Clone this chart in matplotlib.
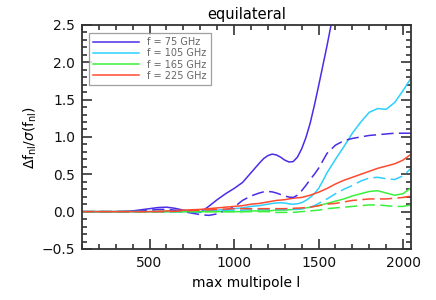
import matplotlib
matplotlib.use('Agg')
import matplotlib.pyplot as plt
from matplotlib.ticker import MultipleLocator

# max multipole values (x grid shared by every curve)
ell = [100, 200, 300, 400, 500, 550, 600, 650, 700, 750, 800, 850, 900, 950,
       1000, 1050, 1100, 1150, 1175, 1200, 1225, 1250, 1275, 1300, 1325, 1350,
       1375, 1400, 1425, 1450, 1475, 1500, 1525, 1550,
       1600, 1650, 1700, 1750, 1800, 1850, 1900, 1950, 2000, 2048]

# solid curves
f75 = [0.0, 0.0, 0.0, 0.01, 0.04, 0.055, 0.06, 0.045, 0.02, 0.0, -0.01, 0.07, 0.16, 0.24,
       0.31, 0.39, 0.52, 0.65, 0.71, 0.75, 0.77, 0.76, 0.73, 0.69, 0.665, 0.67,
       0.73, 0.84, 0.99, 1.18, 1.42, 1.68, 1.95, 2.22,
       2.8, 3.3, 3.8, 4.3, 4.8, 5.3, 5.8, 6.3, 6.8, 7.3]
f105 = [0.0, 0.0, 0.0, 0.0, 0.0, 0.0, 0.0, 0.0, 0.0, 0.0, 0.0, 0.01, 0.02, 0.03,
        0.04, 0.05, 0.07, 0.08, 0.09, 0.10, 0.11, 0.115, 0.12, 0.115, 0.105, 0.10,
        0.105, 0.12, 0.15, 0.19, 0.24, 0.31, 0.41, 0.52,
        0.70, 0.87, 1.05, 1.20, 1.33, 1.38, 1.37, 1.46, 1.62, 1.79]
f165 = [0.0, 0.0, 0.0, 0.0, 0.0, 0.0, 0.0, 0.0, 0.0, 0.0, 0.0, 0.0, 0.0, 0.0,
        0.0, 0.0, 0.01, 0.01, 0.01, 0.01, 0.015, 0.02, 0.02, 0.02, 0.025, 0.03,
        0.035, 0.04, 0.05, 0.06, 0.07, 0.08, 0.095, 0.11,
        0.14, 0.17, 0.21, 0.24, 0.27, 0.28, 0.25, 0.22, 0.24, 0.32]
f225 = [0.0, 0.0, 0.0, 0.0, 0.0, 0.005, 0.01, 0.015, 0.02, 0.025, 0.03, 0.04, 0.05, 0.06,
        0.07, 0.08, 0.10, 0.11, 0.12, 0.13, 0.14, 0.15, 0.155, 0.16, 0.17, 0.18,
        0.185, 0.19, 0.205, 0.22, 0.24, 0.26, 0.285, 0.31,
        0.37, 0.42, 0.46, 0.50, 0.54, 0.58, 0.61, 0.64, 0.69, 0.77]

# dashed curves
f75_d = [0.0, 0.0, 0.0, 0.0, 0.02, 0.03, 0.03, 0.02, 0.0, -0.02, -0.04, -0.05, -0.03, 0.02,
         0.06, 0.15, 0.21, 0.25, 0.265, 0.27, 0.265, 0.25, 0.23, 0.21, 0.195, 0.19,
         0.22, 0.28, 0.35, 0.43, 0.50, 0.58, 0.68, 0.78,
         0.89, 0.95, 0.98, 1.0, 1.02, 1.03, 1.04, 1.05, 1.05, 1.05]
f105_d = [0.0, 0.0, 0.0, 0.0, 0.0, 0.0, 0.0, 0.0, 0.0, 0.0, 0.0, 0.01, 0.01, 0.02,
          0.02, 0.02, 0.03, 0.03, 0.03, 0.03, 0.03, 0.03, 0.03, 0.03, 0.03, 0.03,
          0.03, 0.04, 0.045, 0.06, 0.08, 0.11, 0.14, 0.17,
          0.24, 0.30, 0.35, 0.41, 0.45, 0.46, 0.44, 0.43, 0.48, 0.58]
f165_d = [0.0, 0.0, 0.0, 0.0, 0.0, 0.0, 0.0, 0.0, 0.0, 0.0, 0.0, 0.0, 0.0, 0.0,
          0.0, 0.0, 0.0, 0.0, 0.0, 0.0, -0.005, -0.01, -0.01, -0.01, -0.01, -0.01,
          -0.005, 0.0, 0.005, 0.01, 0.015, 0.02, 0.03, 0.04,
          0.05, 0.06, 0.07, 0.08, 0.09, 0.09, 0.08, 0.07, 0.07, 0.09]
f225_d = [0.0, 0.0, 0.0, 0.0, 0.0, 0.0, 0.0, 0.005, 0.01, 0.015, 0.02, 0.025, 0.03, 0.035,
          0.04, 0.04, 0.04, 0.04, 0.04, 0.04, 0.04, 0.04, 0.04, 0.04, 0.042, 0.045,
          0.047, 0.05, 0.055, 0.06, 0.07, 0.08, 0.09, 0.10,
          0.11, 0.13, 0.15, 0.16, 0.17, 0.17, 0.17, 0.18, 0.19, 0.21]

labels = ['f = 75 GHz', 'f = 105 GHz', 'f = 165 GHz', 'f = 225 GHz']
colors = ['#4a2de6', '#2cd0ff', '#3cf03c', '#ff4a30']

fig = plt.figure(figsize=(4.36, 3.0), dpi=100)
ax = fig.add_axes([0.188, 0.17, 0.755, 0.747])

for ys, c, lab in zip([f75, f105, f165, f225], colors, labels):
    ax.plot(ell, ys, color=c, lw=1.1, label=lab, solid_joinstyle='round')
for ys, c in zip([f75_d, f105_d, f165_d, f225_d], colors):
    ax.plot(ell, ys, color=c, lw=1.1, dashes=(8, 3.5))

ax.set_xlim(100, 2048)
ax.set_ylim(-0.5, 2.5)
ax.xaxis.set_major_locator(MultipleLocator(500))
ax.xaxis.set_minor_locator(MultipleLocator(100))
ax.yaxis.set_major_locator(MultipleLocator(0.5))
ax.yaxis.set_minor_locator(MultipleLocator(0.1))
ax.yaxis.set_major_formatter(plt.FuncFormatter(lambda v, p: '%.1f' % v if v >= 0 else '\u2212%.1f' % -v))
ax.tick_params(which='both', direction='in', top=True, right=True, colors='#333333',
               labelcolor='#111111', labelsize=10, width=1.2)
ax.tick_params(which='major', length=7, pad=5)
ax.tick_params(which='minor', length=3.5)
for s in ax.spines.values():
    s.set_color('#333333')
    s.set_linewidth(1.3)

ax.set_title('equilateral', fontsize=10.5, pad=4)
ax.set_xlabel('max multipole l', fontsize=10)
ax.set_ylabel(r'$\Delta\mathrm{f}_{\mathrm{nl}}/\sigma(\mathrm{f}_{\mathrm{nl}})$', fontsize=10, labelpad=2)

leg = ax.legend(loc='upper left', fontsize=7, handlelength=4.8, frameon=True, fancybox=False,
                borderpad=0.4, labelspacing=0.12, handletextpad=0.8,
                bbox_to_anchor=(0.012, 0.975), borderaxespad=0.3)
leg.get_frame().set_edgecolor('#888888')
leg.get_frame().set_linewidth(0.9)
for t in leg.get_texts():
    t.set_color('#666666')

fig.savefig('out.png', dpi=100)
